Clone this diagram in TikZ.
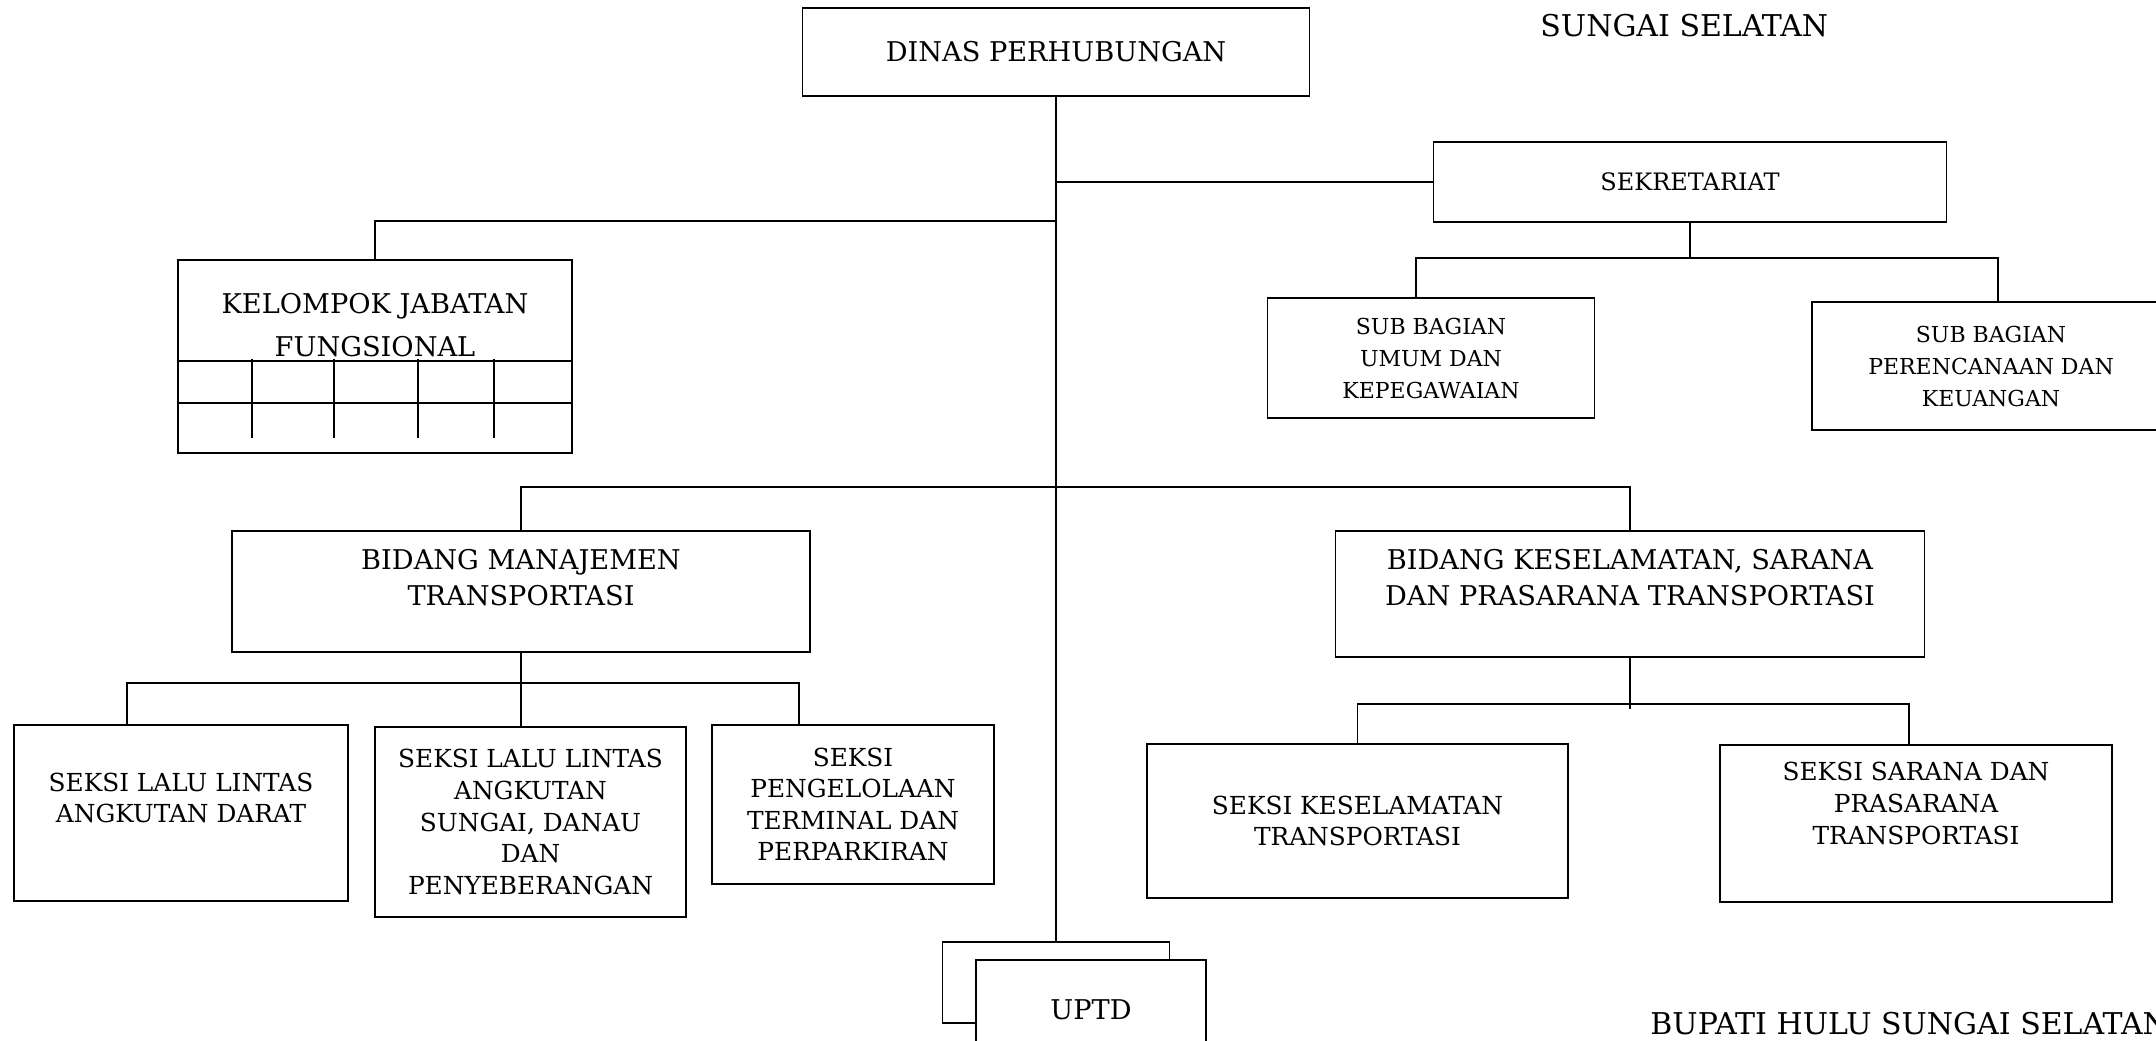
\documentclass[tikz,border=0pt]{standalone}
\usepackage{fontspec}
\setmainfont{DejaVu Serif}
\begin{document}
\begin{tikzpicture}[
        x=0.5pt, y=-0.5pt,
        every node/.style={align=center, inner sep=0pt},
        kotak/.style={draw, rectangle, line width=0.9pt, fill=white},
        kepala/.style={font=\fontsize{15}{18}\selectfont},
        besar/.style={font=\fontsize{13.6}{18}\selectfont},
        kecil/.style={font=\fontsize{12.4}{15.8}\selectfont},
        subbag/.style={font=\fontsize{11}{16}\selectfont},
        garis/.style={line width=0.9pt}
    ]

    \useasboundingbox (0,0) rectangle (2156,1040);
    \clip (0,0) rectangle (2156,1040);

    \node[kotak, besar, minimum width=253.5pt, minimum height=44pt] (dinas) at (1056,52) {DINAS PERHUBUNGAN};
    \node[kotak, font=\fontsize{12}{16}\selectfont, minimum width=256.5pt, minimum height=40pt] (sekre) at (1690,182) {SEKRETARIAT};
    \node[kotak, subbag, minimum width=163.5pt, minimum height=60pt] (umum) at (1431,358) {SUB BAGIAN\\UMUM DAN\\KEPEGAWAIAN};
    \node[kotak, subbag, minimum width=179pt, minimum height=64pt] (renc) at (1991,366) {SUB BAGIAN\\PERENCANAAN DAN\\KEUANGAN};

    \node[kotak, minimum width=197pt, minimum height=96.5pt,
        label={[font=\fontsize{13.6}{21.5}\selectfont, yshift=15.5pt]center:KELOMPOK JABATAN\\FUNGSIONAL}] (kjf) at (375,356.5) {};
    \draw[garis] (kjf.west |- 0,361) -- (kjf.east |- 0,361);
    \draw[garis] (kjf.west |- 0,403) -- (kjf.east |- 0,403);
    \foreach \gx in {252,334,418,494}
        \draw[garis] (\gx,359) -- (\gx,438);

    \node[kotak, minimum width=289pt, minimum height=60.5pt,
        label={[besar, yshift=7pt]center:BIDANG MANAJEMEN\\TRANSPORTASI}] (manaj) at (521,591.5) {};
    \node[kotak, minimum width=294.5pt, minimum height=63pt,
        label={[besar, yshift=8pt]center:BIDANG KESELAMATAN, SARANA\\DAN PRASARANA TRANSPORTASI}] (kesel) at (1630,594) {};

    \node[kotak, minimum width=167pt, minimum height=88pt,
        label={[kecil, yshift=7.5pt]center:SEKSI LALU LINTAS\\ANGKUTAN DARAT}] (darat) at (181,813) {};
    \node[kotak, kecil, minimum width=155.5pt, minimum height=95pt] (sungai) at (530.5,822) {SEKSI LALU LINTAS\\ANGKUTAN\\SUNGAI, DANAU\\DAN\\PENYEBERANGAN};
    \node[kotak, kecil, minimum width=141pt, minimum height=79.5pt] (terminal) at (853,804.5) {SEKSI\\PENGELOLAAN\\TERMINAL DAN\\PERPARKIRAN};
    \node[kotak, kecil, minimum width=210.5pt, minimum height=77pt] (kestr) at (1357.5,821) {SEKSI KESELAMATAN\\TRANSPORTASI};
    \node[kotak, minimum width=196pt, minimum height=78.5pt,
        label={[kecil, yshift=10pt]center:SEKSI SARANA DAN\\PRASARANA\\TRANSPORTASI}] (sarana) at (1916,823.5) {};

    \node[kotak, minimum width=113.5pt, minimum height=40.5pt] (uptdB) at (1056,982.5) {};
    \node[kotak, besar, minimum width=115pt, minimum height=50pt] (uptd) at (1091,1010) {UPTD};

    \node[kepala, anchor=west] (sungaiSel) at (1540,26) {SUNGAI SELATAN};
    \node[kepala, anchor=west] (bupati) at (1650,1024) {BUPATI HULU SUNGAI SELATAN};

    \draw[garis] (dinas.south) -- (uptdB.north);
    \draw[garis] (sekre.west) -- (sekre.west -| dinas.south);
    \coordinate (sbus) at (1690,258);
    \draw[garis] (sekre.south) -- (sbus);
    \draw[garis] ([xshift=-7.5pt]umum.north) |- (sbus) -| ([xshift=3.5pt]renc.north);
    \coordinate (kbus) at (1056,221);
    \draw[garis] (kjf.north) |- (kbus);
    \coordinate (mbus) at (1056,487);
    \draw[garis] (manaj.north) |- (mbus) -| (kesel.north);
    \coordinate (mjbus) at (521,683);
    \draw[garis] (manaj.south) -- (manaj.south |- sungai.north);
    \draw[garis] ([xshift=-27pt]darat.north) |- (mjbus) -| ([xshift=-27pt]terminal.north);
    \coordinate (ksbus) at (1630,704);
    \draw[garis] (kesel.south) -- ([yshift=-2.5pt]ksbus);
    \draw[garis] (kestr.north) |- (ksbus) -| ([xshift=-3.5pt]sarana.north);

\end{tikzpicture}
\end{document}
